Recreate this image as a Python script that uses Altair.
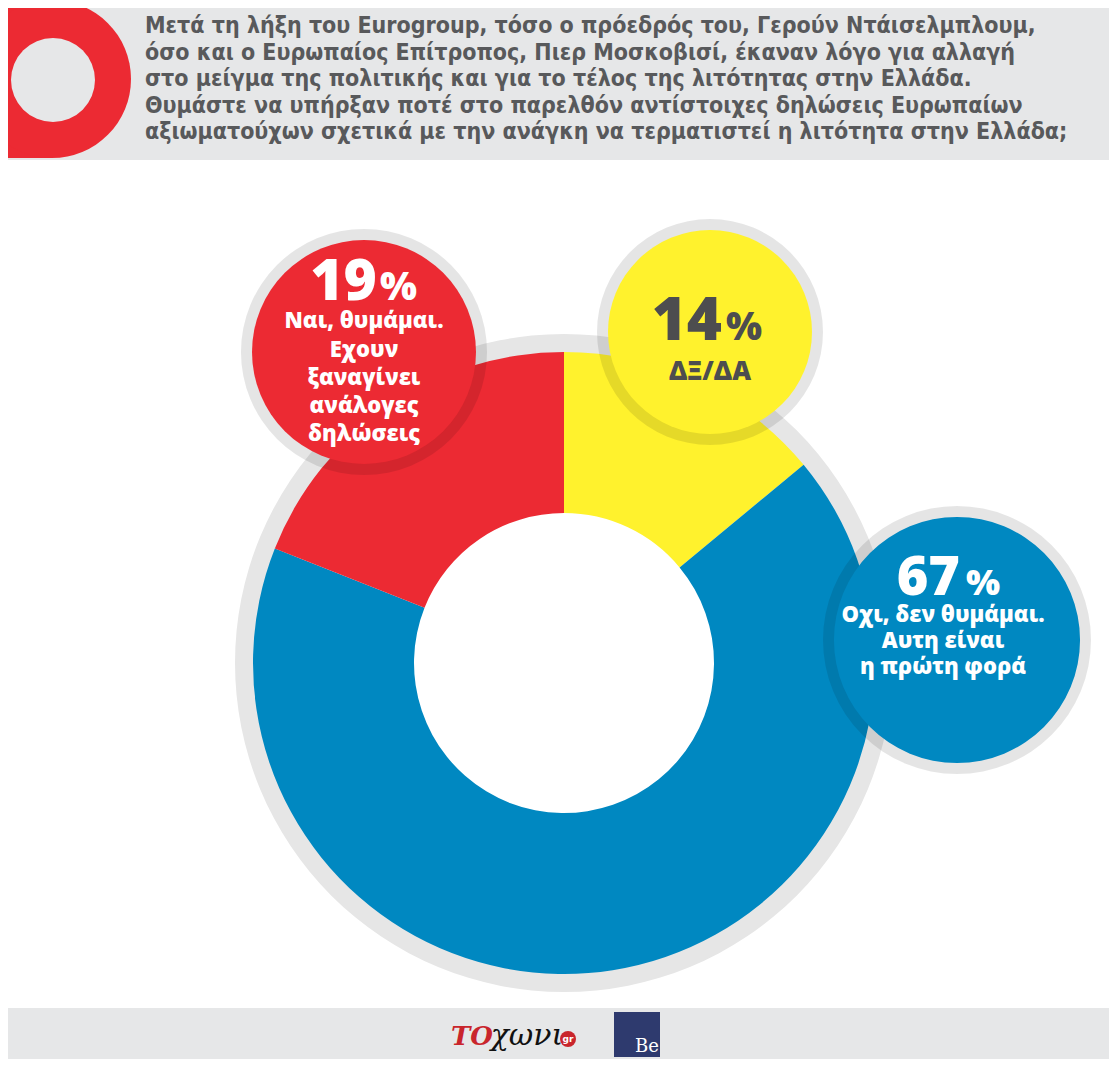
import math
import altair as alt
import pandas as pd

# ---------------- data ----------------
categories = ["ΔΞ/ΔΑ",
              "Οχι, δεν θυμάμαι. Αυτη είναι η πρώτη φορά",
              "Ναι, θυμάμαι. Εχουν ξαναγίνει ανάλογες δηλώσεις"]
values = [14, 67, 19]
slice_colors = ["#fff22d", "#0088c1", "#ec2a33"]

label_lines = [
    ["ΔΞ/ΔΑ"],
    ["Οχι, δεν θυμάμαι.", "Αυτη είναι", "η πρώτη φορά"],
    ["Ναι, θυμάμαι.", "Εχουν", "ξαναγίνει", "ανάλογες", "δηλώσεις"],
]

title_lines = [
    "Μετά τη λήξη του Eurogroup, τόσο ο πρόεδρός του, Γερούν Ντάισελμπλουμ,",
    "όσο και ο Ευρωπαίος Επίτροπος, Πιερ Μοσκοβισί, έκαναν λόγο για αλλαγή",
    "στο μείγμα της πολιτικής και για το τέλος της λιτότητας στην Ελλάδα.",
    "Θυμάστε να υπήρξαν ποτέ στο παρελθόν αντίστοιχες δηλώσεις Ευρωπαίων",
    "αξιωματούχων σχετικά με την ανάγκη να τερματιστεί η λιτότητα στην Ελλάδα;",
]

# ---------------- layout ----------------
W, H = 1101, 1051
OX, OY = 8, 8
GRAY_BAND = "#e6e7e8"
TITLE_GRAY = "#58595b"
DARK = "#4d4d4f"
FONT = "Open Sans"
TFONT = "DejaVu Sans Condensed"

one = pd.DataFrame({"k": [0]})


def px(x):
    return x - OX


def py(y):
    return y - OY


def disk(cx, cy, r, color, r2=0, opacity=1.0):
    return alt.Chart(one).mark_arc(
        outerRadius=r, innerRadius=r2, theta=0, theta2=2 * math.pi,
        color=color, opacity=opacity
    ).encode(x=alt.value(px(cx)), y=alt.value(py(cy)))


def rect(x1, y1, x2, y2, color):
    return alt.Chart(one).mark_rect(color=color).encode(
        x=alt.value(px(x1)), x2=alt.value(px(x2)),
        y=alt.value(py(y1)), y2=alt.value(py(y2)))


def text(s, x, y, size, color, align="center", font=FONT, weight=800,
         style="normal", baseline="alphabetic"):
    return alt.Chart(one).mark_text(
        text=s, fontSize=size, font=font, fontWeight=weight, fontStyle=style,
        color=color, align=align, baseline=baseline
    ).encode(x=alt.value(px(x)), y=alt.value(py(y)))


layers = []

# header
layers.append(rect(0, 0, 1117, 160, GRAY_BAND))
layers.append(rect(0, 0, 52, 158, "#ec2a33"))
layers.append(disk(52, 79, 79, "#ec2a33"))
layers.append(disk(53, 80, 42, GRAY_BAND))
for i, line in enumerate(title_lines):
    layers.append(text(line, 145, 33 + i * 26.5, 23, TITLE_GRAY, align="left",
                       font=TFONT, weight="bold"))

# donut
CX, CY = 564, 663
layers.append(disk(CX, CY, 329, "#e6e6e6", r2=290))
donut_df = pd.DataFrame({"cat": categories, "value": values,
                         "order": list(range(len(values)))})
donut = alt.Chart(donut_df).mark_arc(outerRadius=311, innerRadius=150).encode(
    theta=alt.Theta("value:Q", stack=True),
    order=alt.Order("order:Q"),
    color=alt.Color("cat:N", scale=alt.Scale(domain=categories, range=slice_colors),
                    legend=None),
    x=alt.value(px(CX)), y=alt.value(py(CY)),
)
layers.append(donut)

# callout bubbles: (cx, cy, r)
bubbles = [(710, 332, 102), (957, 640, 123), (364, 352, 112)]
for (bx, by, br), col in zip(bubbles, slice_colors):
    layers.append(disk(bx, by, br + 11, "#000000", r2=br - 1, opacity=0.1))
    layers.append(disk(bx, by, br, col))

# yellow bubble text
layers.append(text(f"{values[0]}", 722, 340, 60, DARK, align="right"))
layers.append(text("%", 726, 340, 38, DARK, align="left"))
layers.append(text(label_lines[0][0], 710, 380, 26, DARK))

# blue bubble text
layers.append(text(f"{values[1]}", 960, 595, 54, "white", align="right"))
layers.append(text("%", 966, 595, 36, "white", align="left"))
for ln, yy in zip(label_lines[1], [622, 648, 674]):
    layers.append(text(ln, 943, yy, 22, "white"))

# red bubble text
layers.append(text(f"{values[2]}", 377, 300, 57, "white", align="right"))
layers.append(text("%", 380, 300, 39, "white", align="left"))
for ln, yy in zip(label_lines[2], [328, 357, 385, 413, 441]):
    layers.append(text(ln, 364, yy, 22, "white"))

# footer
layers.append(rect(0, 1008, 1117, 1067, GRAY_BAND))
layers.append(text("ΤΟ", 472, 1045, 26, "#c9252c", font="DejaVu Serif",
                   style="italic", weight="bold"))
layers.append(text("χωνι", 527, 1045, 30, "#111111", font="DejaVu Serif",
                   weight="normal", style="italic"))
layers.append(disk(568, 1039, 8, "#c9252c"))
layers.append(text("gr", 568, 1042, 9, "white", font="DejaVu Sans", weight="bold"))
layers.append(rect(614, 1012, 660, 1057, "#2e3a6e"))
layers.append(text("Be", 647, 1052, 18, "white", font="DejaVu Serif",
                   weight="normal"))

chart = alt.layer(*layers).properties(
    width=W, height=H, padding=0,
    autosize=alt.AutoSizeParams(type="none"),
).configure_view(stroke=None)

chart.save("out.html", embed_options={"renderer": "svg", "actions": False})
